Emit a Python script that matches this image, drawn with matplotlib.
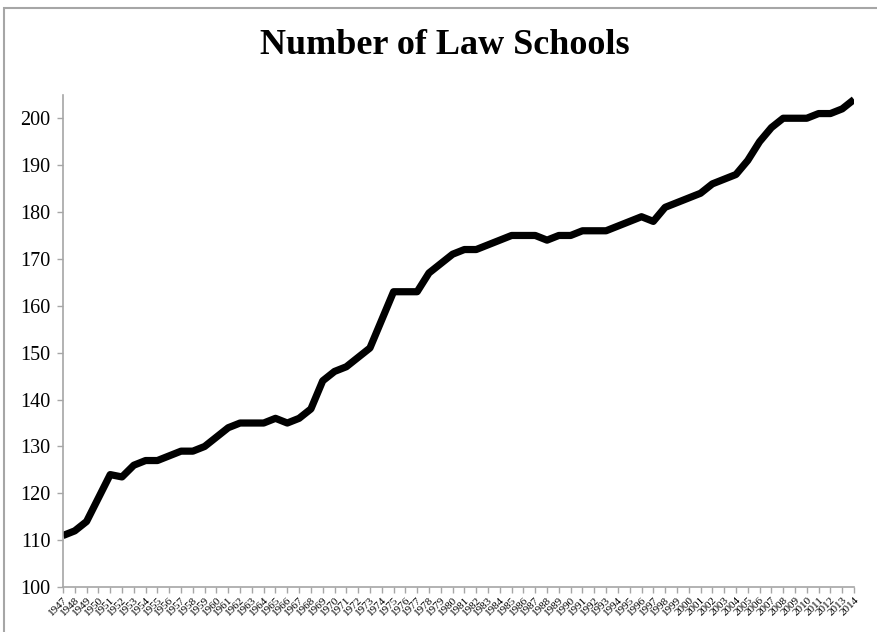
import matplotlib.pyplot as plt
from matplotlib.patches import Rectangle

years = list(range(1947, 2015))
schools = [111, 112, 114, 119, 124, 123.5, 126, 127, 127, 128,
           129, 129, 130, 132, 134, 135, 135, 135, 136, 135,
           136, 138, 144, 146, 147, 149, 151, 157, 163, 163,
           163, 167, 169, 171, 172, 172, 173, 174, 175, 175,
           175, 174, 175, 175, 176, 176, 176, 177, 178, 179,
           178, 181, 182, 183, 184, 186, 187, 188, 191, 195,
           198, 200, 200, 200, 201, 201, 202, 204]
y_ticks = [100, 110, 120, 130, 140, 150, 160, 170, 180, 190, 200]

plt.rcParams['font.family'] = ['Liberation Serif', 'DejaVu Serif']

fig = plt.figure(figsize=(8.77, 6.32), dpi=100)
ax = fig.add_axes([0.0718, 0.071, 0.902, 0.779])

ax.plot(years, schools, color='black', linewidth=5.2,
        solid_joinstyle='round', solid_capstyle='butt')

ax.set_xlim(years[0], years[-1])
ax.set_ylim(100, 205)
ax.set_yticks(y_ticks)
ax.set_yticklabels([str(v) for v in y_ticks], fontsize=14.5)
ax.set_xticks(years)
ax.set_xticklabels([str(y) for y in years], rotation=45, ha='right',
                   rotation_mode='anchor', fontsize=8)

for side in ['top', 'right']:
    ax.spines[side].set_visible(False)
for side in ['left', 'bottom']:
    ax.spines[side].set_color('#a6a6a6')
    ax.spines[side].set_linewidth(1.2)
ax.tick_params(axis='both', colors='#a6a6a6', length=4, width=1,
               direction='out', labelcolor='black')
ax.tick_params(axis='x', pad=2)
ax.tick_params(axis='y', pad=5)

fig.text(0.507, 0.928, 'Number of Law Schools', ha='center', va='center',
         fontsize=26, fontweight='bold')

fig.patches.append(Rectangle((0.004, -0.05), 1.2, 1.037, transform=fig.transFigure,
                             fill=False, edgecolor='#a6a6a6', linewidth=1.5))

fig.savefig('out.png', dpi=100)
